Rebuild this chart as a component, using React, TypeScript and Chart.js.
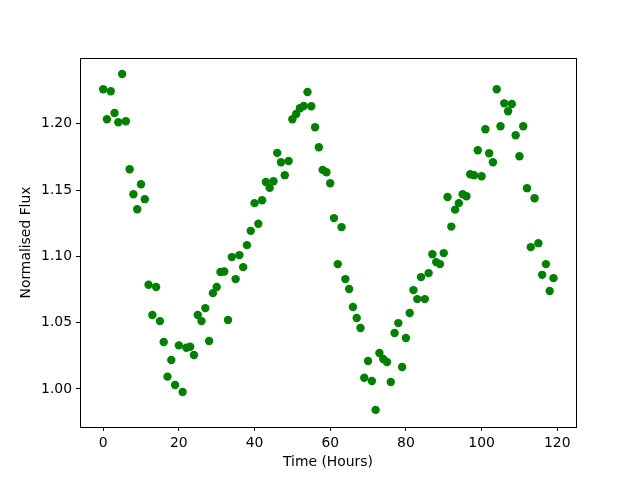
import React, { useEffect, useRef } from "react";
import { Chart, registerables } from "chart.js";

Chart.register(...registerables);

const hours: number[] = [
  0, 1, 2, 3, 4, 5, 6, 7, 8, 9, 10, 11, 12, 13, 14, 15, 16, 17, 18, 19,
  20, 21, 22, 23, 24, 25, 26, 27, 28, 29, 30, 31, 32, 33, 34, 35, 36, 37, 38, 39,
  40, 41, 42, 43, 44, 45, 46, 47, 48, 49, 50, 51, 52, 53, 54, 55, 56, 57, 58, 59,
  60, 61, 62, 63, 64, 65, 66, 67, 68, 69, 70, 71, 72, 73, 74, 75, 76, 77, 78, 79,
  80, 81, 82, 83, 84, 85, 86, 87, 88, 89, 90, 91, 92, 93, 94, 95, 96, 97, 98, 99,
  100, 101, 102, 103, 104, 105, 106, 107, 108, 109, 110, 111, 112, 113, 114, 115, 116, 117, 118, 119,
];

const flux: number[] = [
  1.2261, 1.2035, 1.2246, 1.2082, 1.2012, 1.2376, 1.202, 1.1658, 1.1469, 1.1356,
  1.1545, 1.1432, 1.0786, 1.0558, 1.0769, 1.0512, 1.0354, 1.0093, 1.0219, 1.003,
  1.0329, 0.9977, 1.0311, 1.0319, 1.0256, 1.0558, 1.0512, 1.061, 1.0362, 1.0723,
  1.0769, 1.0882, 1.0886, 1.052, 1.0995, 1.0829, 1.101, 1.0919, 1.1085, 1.1193,
  1.1402, 1.1246, 1.1424, 1.1562, 1.1517, 1.1567, 1.1781, 1.1711, 1.1613, 1.172,
  1.2035, 1.2075, 1.2118, 1.2135, 1.224, 1.2133, 1.1974, 1.1824, 1.1653, 1.1635,
  1.1552, 1.1289, 1.0942, 1.1221, 1.0829, 1.0754, 1.0618, 1.0535, 1.046, 1.0085,
  1.0211, 1.006, 0.9842, 1.0271, 1.0226, 1.0203, 1.0053, 1.0422, 1.0497, 1.0166,
  1.0384, 1.0573, 1.0746, 1.0678, 1.0844, 1.0678, 1.0874, 1.1017, 1.0957, 1.0942,
  1.1025, 1.1449, 1.1225, 1.1353, 1.1402, 1.1469, 1.1454, 1.162, 1.1613, 1.1801,
  1.1605, 1.1959, 1.1778, 1.1711, 1.2261, 1.1982, 1.2155, 1.2095, 1.215, 1.1914,
  1.1756, 1.1982, 1.1515, 1.107, 1.1439, 1.11, 1.0861, 1.0942, 1.0739, 1.0836,
];

const xTitle = "Time (Hours)";
const yTitle = "Normalised Flux";

const FONT = "'DejaVu Sans', sans-serif";

const frame = {
  id: "frame",
  afterDatasetsDraw(chart: any) {
    const { ctx, chartArea } = chart;
    ctx.save();
    ctx.strokeStyle = "#000";
    ctx.lineWidth = 1;
    ctx.strokeRect(
      chartArea.left + 0.5,
      chartArea.top + 0.5,
      chartArea.right - chartArea.left,
      chartArea.bottom - chartArea.top
    );
    ctx.restore();
  },
};

export default function App() {
  const ref = useRef<HTMLCanvasElement | null>(null);

  useEffect(() => {
    if (!ref.current) return;
    const points = hours.map((h, i) => ({ x: h, y: flux[i] }));
    const chart = new Chart(ref.current, {
      type: "scatter",
      data: {
        datasets: [
          {
            data: points,
            backgroundColor: "#008000",
            borderColor: "#008000",
            pointRadius: 4.2,
            pointBorderWidth: 0,
            pointHoverRadius: 4.2,
          },
        ],
      },
      options: {
        responsive: false,
        animation: false,
        devicePixelRatio: 1,
        layout: { padding: { top: 58, right: 64, left: 0, bottom: 0 } },
        plugins: { legend: { display: false }, tooltip: { enabled: false } },
        scales: {
          x: {
            type: "linear",
            min: -6.12,
            max: 124.95,
            afterFit: (s: any) => {
              s.height = 53;
            },
            border: { display: false },
            grid: {
              drawOnChartArea: false,
              drawTicks: true,
              tickLength: 4,
              color: "#000",
              lineWidth: 1,
            },
            ticks: {
              stepSize: 20,
              includeBounds: false,
              padding: 4,
              color: "#000",
              font: { family: FONT, size: 13.9 },
              maxRotation: 0,
              callback: (v: any) => String(v),
            },
            title: {
              display: true,
              text: xTitle,
              color: "#000",
              font: { family: FONT, size: 13.9 },
              padding: { top: 0, bottom: 9 },
            },
          },
          y: {
            type: "linear",
            min: 0.9713,
            max: 1.2497,
            afterFit: (s: any) => {
              s.width = 80;
            },
            border: { display: false },
            grid: {
              drawOnChartArea: false,
              drawTicks: true,
              tickLength: 4,
              color: "#000",
              lineWidth: 1,
            },
            ticks: {
              stepSize: 0.05,
              includeBounds: false,
              padding: 4,
              color: "#000",
              font: { family: FONT, size: 13.9 },
              callback: (v: any) => Number(v).toFixed(2),
            },
            title: {
              display: true,
              text: yTitle,
              color: "#000",
              font: { family: FONT, size: 13.9 },
              padding: { top: 18, bottom: 0 },
            },
          },
        },
      },
      plugins: [frame],
    });
    return () => chart.destroy();
  }, []);

  return (
    <div
      style={{
        position: "fixed",
        left: 0,
        top: 0,
        width: 640,
        height: 480,
        background: "#fff",
      }}
    >
      <canvas ref={ref} width={640} height={480} style={{ display: "block" }} />
    </div>
  );
}
